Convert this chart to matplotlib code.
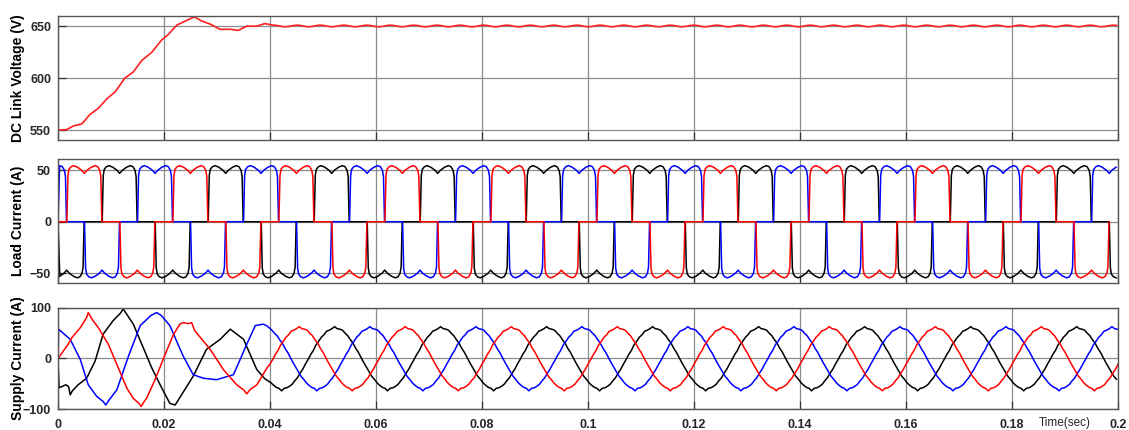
import numpy as np
import matplotlib.pyplot as plt

plt.rcParams['font.family'] = ['Liberation Sans', 'DejaVu Sans']

# -------------------------------------------------------
# DC link voltage (V): start-up read off the trace, then one ripple period.
# -------------------------------------------------------
vdc_t = [0, 0.0016, 0.0029, 0.0045, 0.0060, 0.0076, 0.0092, 0.0108, 0.0126,
         0.0142, 0.0158, 0.0177, 0.0196, 0.0208, 0.0224, 0.0236, 0.0257,
         0.0271, 0.0287, 0.0306, 0.0325, 0.0340, 0.0356, 0.0375, 0.0390]
vdc_v = [550, 550.5, 554, 556, 565, 571, 580, 587, 600,
         606, 617, 625, 637, 642, 651, 654, 659,
         655, 652, 647, 647, 646, 650, 650, 652.5]
vdc_ripple_period = 0.0044
vdc_ripple = [651.0, 650.7, 649.9, 649.4, 649.7, 650.5]

# -------------------------------------------------------
# Load current (A): one conduction pulse, time from its rising edge.
# -------------------------------------------------------
pulse_dt = [0, 0.0002, 0.0004, 0.0008, 0.0013, 0.0020, 0.0028, 0.0033,
            0.0038, 0.0046, 0.0053, 0.0058, 0.0062, 0.0064, 0.0066]
pulse_i = [0, 45, 51, 53.5, 54.5, 53, 50, 47,
           50, 53, 54.5, 53.5, 50, 44, 0]
load_rise = {"red": 0.00167, "black": 0.00833, "blue": 0.0150}

# -------------------------------------------------------
# Supply current (A): start-up transient of each phase ...
# -------------------------------------------------------
sup_red_t = [0, 0.0019, 0.0026, 0.0042, 0.0054, 0.0057, 0.0064, 0.0076, 0.0095,
             0.0114, 0.0130, 0.0142, 0.0152, 0.0157, 0.0162, 0.0167, 0.0183,
             0.0202, 0.0218, 0.0230, 0.0236, 0.0245, 0.0252, 0.0258, 0.0287,
             0.0312, 0.0337, 0.0350, 0.0356, 0.0362, 0.0375, 0.0394]
sup_red_i = [0, 28, 41, 61, 81, 91, 78, 61, 28,
             -19, -59, -79, -88, -95, -86, -79, -42,
             8, 48, 68, 71, 69, 71, 55, 18,
             -22, -52, -62, -70, -62, -52, -19]
sup_black_t = [0, 0.0002, 0.0015, 0.0020, 0.0023, 0.0027, 0.0038, 0.0054, 0.0070,
               0.0085, 0.0104, 0.0118, 0.0123, 0.0128, 0.0142, 0.0158, 0.0177,
               0.0196, 0.0211, 0.0221, 0.0233, 0.0255, 0.0280, 0.0306, 0.0325,
               0.0350, 0.0375, 0.0390]
sup_black_i = [-5, -58, -52, -56, -72, -64, -52, -39, -5,
               48, 75, 90, 98, 90, 68, 28, -19,
               -59, -89, -92, -72, -35, 18, 38, 58,
               38, -22, -40]
sup_blue_t = [0, 0.0001, 0.0023, 0.0042, 0.0057, 0.0073, 0.0085, 0.0090, 0.0095,
              0.0111, 0.0133, 0.0155, 0.0175, 0.0186, 0.0195, 0.0211, 0.0236,
              0.0255, 0.0274, 0.0299, 0.0331, 0.0356, 0.0372, 0.0387, 0.0395]
sup_blue_i = [0, 58, 38, -2, -52, -75, -85, -92, -84,
              -62, 5, 65, 85, 91, 85, 65, 5,
              -32, -39, -42, -32, 28, 65, 68, 64]
# ... and one steady 50 Hz cycle (red phase), sampled every 0.5 ms
sup_cycle_dt = 0.0005
sup_cycle = [-11, -2, 8, 16, 27, 34, 42, 47, 54, 56, 59, 63, 59, 58, 56, 50,
             45, 37, 30, 20, 12, 2, -8, -17, -26, -35, -41, -48, -53, -57,
             -59, -64, -59, -58, -55, -51, -44, -38, -29, -21]
sup_shift = {"red": 0.0, "black": 0.00667, "blue": 0.01333}

period = 0.02
t_end = 0.2
t_steady = 0.04

# -------------------------------------------------------
# Build the traces.
# -------------------------------------------------------
vt = list(vdc_t)
vv = list(vdc_v)
step = vdc_ripple_period / len(vdc_ripple)
k = 0
while t_steady + 0.0006 + k * step <= t_end:
    vt.append(t_steady + 0.0006 + k * step)
    vv.append(vdc_ripple[k % len(vdc_ripple)])
    k += 1


def load_trace(rise):
    tt, ii = [0.0], [0.0]
    for n in range(-1, 11):
        for sgn, off in [(1, 0.0), (-1, period / 2)]:
            s = rise + n * period + off
            for dt, val in zip(pulse_dt, pulse_i):
                if 0 < s + dt <= t_end:
                    tt.append(s + dt)
                    ii.append(sgn * val)
    return tt, ii


def supply_trace(t0, i0, shift):
    tt, ii = list(t0), list(i0)
    st = []
    for n in range(-1, 11):
        for j, val in enumerate(sup_cycle):
            t = n * period + shift + j * sup_cycle_dt
            if t_steady <= t <= t_end:
                st.append((t, val))
    st.sort()
    tt += [p[0] for p in st]
    ii += [p[1] for p in st]
    return tt, ii


colors = {"red": "#ff0000", "black": "#000000", "blue": "#0000ff"}
sup_data = {"red": (sup_red_t, sup_red_i),
            "black": (sup_black_t, sup_black_i),
            "blue": (sup_blue_t, sup_blue_i)}

# -------------------------------------------------------
# Plot.
# -------------------------------------------------------
fig = plt.figure(figsize=(11.29, 4.30), dpi=100)
left, width = 0.0514, 0.939
ax1 = fig.add_axes([left, 0.6744, width, 0.2884])
ax2 = fig.add_axes([left, 0.3419, width, 0.2884])
ax3 = fig.add_axes([left, 0.0488, width, 0.2350])

ax1.plot(vt, vv, color="#ff2020", lw=1.2)
for ph in ["black", "blue", "red"]:
    tt, ii = load_trace(load_rise[ph])
    ax2.plot(tt, ii, color=colors[ph], lw=1.1)
for ph in ["black", "blue", "red"]:
    tt, ii = supply_trace(*sup_data[ph], sup_shift[ph])
    ax3.plot(tt, ii, color=colors[ph], lw=1.1)

xt = [0, 0.02, 0.04, 0.06, 0.08, 0.1, 0.12, 0.14, 0.16, 0.18, 0.2]
xt_lab = ["0", "0.02", "0.04", "0.06", "0.08", "0.1", "0.12", "0.14",
          "0.16", "0.18", "0.2"]

setup = [
    (ax1, (540.5, 659.8), [550, 600, 650], "DC Link Voltage (V)"),
    (ax2, (-59.5, 61), [-50, 0, 50], "Load Current (A)"),
    (ax3, (-100, 100), [-100, 0, 100], "Supply Current (A)"),
]
for ax, yl, yt, lab in setup:
    ax.set_xlim(0, 0.2)
    ax.set_ylim(*yl)
    ax.set_xticks(xt)
    ax.set_yticks(yt)
    ax.grid(True, color="#8c8c8c", lw=0.9)
    ax.set_axisbelow(True)
    ax.tick_params(direction="in", length=6, width=0.9, color="#333333",
                   labelsize=9, labelcolor="#262626", pad=5)
    for lbl in ax.get_yticklabels():
        lbl.set_fontweight("bold")
    for sp in ax.spines.values():
        sp.set_color("#555555")
        sp.set_linewidth(1.0)
    ax.set_ylabel(lab, fontsize=10, fontweight="bold")
    ax.yaxis.set_label_coords(-0.031, 0.5)
    if ax is not ax3:
        ax.set_xticklabels([])

ax3.set_xticklabels(xt_lab, fontweight="bold")
ax3.tick_params(axis="x", pad=7)
fig.text(0.943, 0.002, "Time(sec)", fontsize=8.5, ha="center", va="bottom",
         color="#262626")

fig.savefig("out.png", dpi=100)
